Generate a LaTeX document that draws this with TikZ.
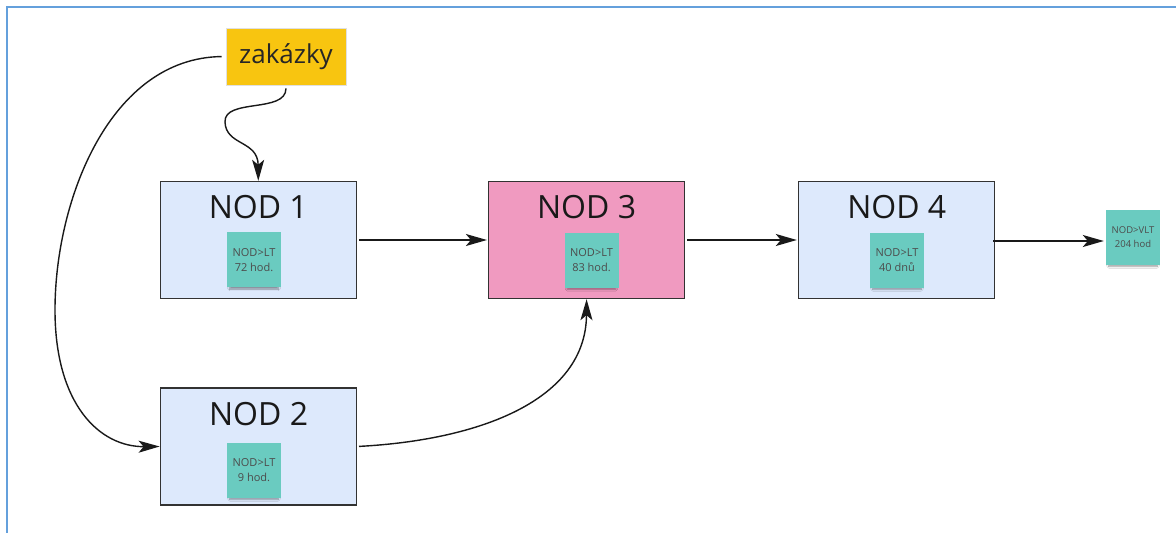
\documentclass[tikz,border=0pt]{standalone}
\usepackage{fontspec}
\setmainfont{Open Sans}
\usetikzlibrary{arrows.meta,shadows.blur}
\definecolor{framec}{RGB}{100,160,220}
\definecolor{boxblue}{RGB}{221,233,252}
\definecolor{boxpink}{RGB}{240,154,192}
\definecolor{boxyellow}{RGB}{248,197,16}
\definecolor{stickyc}{RGB}{106,203,192}
\definecolor{edgec}{RGB}{50,50,50}
\tikzset{
  nodbox/.style={draw=edgec,line width=1.4pt,minimum width=196pt,minimum height=117pt,inner sep=0pt},
  title/.style={anchor=base,font=\fontsize{32}{36}\selectfont,text=black!90,inner sep=0pt},
  sticky/.style={fill=stickyc,minimum width=54pt,minimum height=55pt,inner sep=0pt,align=center,
    text=black!70,font=\fontsize{11}{15.4}\selectfont,
    blur shadow={shadow xshift=0pt,shadow yshift=-5pt,shadow scale=0.9,shadow opacity=40,shadow blur steps=6,shadow blur radius=2pt}},
  conn/.style={line width=1.4pt,draw=black!90,-{Stealth[length=21pt,width=12pt,inset=5pt]}}
}
\begin{document}
\begin{tikzpicture}[x=1pt,y=-1pt]
\useasboundingbox (0,0) rectangle (1176,533);
\fill[white] (0,0) rectangle (1176,533);
\draw[framec,line width=2pt] (6.5,533) -- (6.5,6.5) -- (1176,6.5);

\node[fill=boxyellow,draw=black!12,line width=0.8pt,minimum width=120pt,minimum height=57pt,inner sep=0pt,
  font=\fontsize{26}{30}\selectfont,text=black!85] (zak) at (286,56.5) {zakázky};

\node[nodbox,fill=boxblue] (n1) at (258.3,240) {};
\node[nodbox,fill=boxpink] (n3) at (586.6,240) {};
\node[nodbox,fill=boxblue] (n4) at (896.5,240) {};
\node[nodbox,fill=boxblue] (n2) at (258.3,446.5) {};

\node[title] (t1) at (258.3,218.3) {NOD 1};
\node[title] (t3) at (586.6,218.3) {NOD 3};
\node[title] (t4) at (896.8,218.8) {NOD 4};
\node[title] (t2) at (258.6,425) {NOD 2};

\node[sticky] (s1) at (254,259.8) {NOD>LT\\72 hod.};
\node[sticky] (s3) at (591.5,260) {NOD>LT\\83 hod.};
\node[sticky] (s4) at (897,260) {NOD>LT\\40 dnů};
\node[sticky] (s2) at (254,470) {NOD>LT\\9 hod.};
\node[sticky,font=\fontsize{9.5}{13.5}\selectfont] (s5) at (1133,237) {NOD>VLT\\204 hod};

\draw[conn,shorten <=2pt,shorten >=1pt] (n1.east) -- (n3.west);
\draw[conn,shorten <=2pt,shorten >=1pt] (n3.east) -- (n4.west);
\draw[conn,shorten <=-2pt,shorten >=2pt] ([yshift=-1pt]n4.east) -- ([yshift=-1pt]n4.east -| s5.west);

\draw[conn,shorten <=3pt] (zak.south) .. controls +(0,28) and (224,98) .. (225,122)
  .. controls (226,146) and (258,140) .. (n1.north);
\draw[conn,shorten <=4pt] (zak.west) .. controls (110,58) and (55,200) .. (55,310)
  .. controls (55,405) and (100,447) .. (n2.west);
\draw[conn,shorten <=2pt] (n2.east) .. controls (480,440) and (586,400) .. (n3.south);
\end{tikzpicture}
\end{document}
